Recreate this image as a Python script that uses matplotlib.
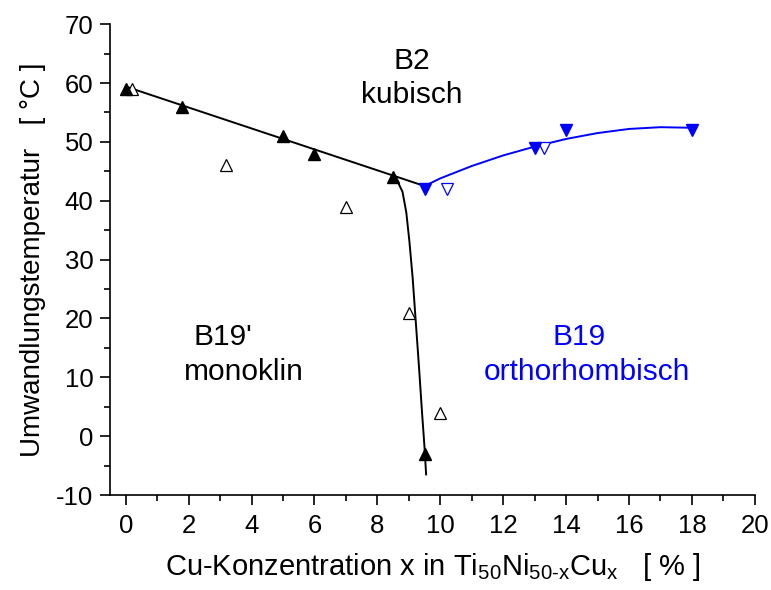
import matplotlib
matplotlib.use("Agg")
import matplotlib.pyplot as plt
from matplotlib.ticker import MultipleLocator

plt.rcParams['font.family'] = ['Liberation Sans', 'DejaVu Sans']
plt.rcParams['mathtext.fontset'] = 'custom'
plt.rcParams['mathtext.rm'] = 'Liberation Sans'
plt.rcParams['mathtext.it'] = 'Liberation Sans'
plt.rcParams['axes.unicode_minus'] = False

# B19' (monoclinic) data - filled
mono_x = [0, 1.8, 5, 6, 8.5, 9.5]
mono_y = [59, 56, 51, 48, 44, -3]
# B19' open
mono_open_x = [0.2, 3.2, 7, 9, 10]
mono_open_y = [59, 46, 39, 21, 4]
# B19 (orthorhombic) filled
ortho_x = [9.5, 13, 14, 18]
ortho_y = [42, 49, 52, 52]
# B19 open
ortho_open_x = [10.2, 13.3]
ortho_open_y = [42, 49]

# boundary lines
line_b2_x = [0, 9.5]
line_b2_y = [59.4, 42.5]
curve_mono_x = [8.5, 8.65, 8.8, 8.92, 9.02, 9.12, 9.22, 9.32, 9.42, 9.5, 9.55]
curve_mono_y = [44, 43.2, 41.5, 38, 33, 27, 19.5, 12, 4, -2, -6.5]
curve_ortho_x = [9.5, 10, 11, 12, 13, 14, 15, 16, 17, 18]
curve_ortho_y = [42.5, 43.8, 45.9, 47.7, 49.2, 50.5, 51.5, 52.2, 52.5, 52.4]

fig = plt.figure(figsize=(7.71, 5.90), dpi=100)
ax = fig.add_axes([0.1427, 0.161, 0.8363, 0.798])

ax.plot(line_b2_x, line_b2_y, color='black', lw=1.4)
ax.plot(curve_mono_x, curve_mono_y, color='black', lw=1.4)
ax.plot(curve_ortho_x, curve_ortho_y, color='blue', lw=1.4)

ax.plot(mono_open_x, mono_open_y, ls='none', marker='^', ms=9, mfc='white', mec='black', mew=0.9)
ax.plot(mono_x, mono_y, ls='none', marker='^', ms=9, color='black')
ax.plot(ortho_open_x, ortho_open_y, ls='none', marker='v', ms=9, mfc='white', mec='blue', mew=0.9)
ax.plot(ortho_x, ortho_y, ls='none', marker='v', ms=9, color='blue')

fs = 21.5
ax.text(9.1, 63.8, 'B2', ha='center', va='center', fontsize=fs)
ax.text(9.1, 58, 'kubisch', ha='center', va='center', fontsize=fs)
ax.text(3.1, 16.9, "B19'", ha='center', va='center', fontsize=fs)
ax.text(3.75, 10.9, 'monoklin', ha='center', va='center', fontsize=fs)
ax.text(14.4, 16.9, 'B19', ha='center', va='center', fontsize=fs, color='blue')
ax.text(14.65, 10.9, 'orthorhombisch', ha='center', va='center', fontsize=fs, color='blue')

ax.set_xlim(-0.5, 20)
ax.set_ylim(-10, 70)
ax.xaxis.set_major_locator(MultipleLocator(2))
ax.xaxis.set_minor_locator(MultipleLocator(1))
ax.yaxis.set_major_locator(MultipleLocator(10))
ax.yaxis.set_minor_locator(MultipleLocator(5))
ax.tick_params(which='major', direction='out', length=7, width=1.2, labelsize=18.5)
ax.tick_params(axis='x', which='major', pad=7)
ax.tick_params(axis='y', which='major', pad=5)
ax.tick_params(which='minor', direction='out', length=4, width=1.2)
for s in ['top', 'right']:
    ax.spines[s].set_visible(False)
for s in ['left', 'bottom']:
    ax.spines[s].set_linewidth(1.2)

ax.set_xlabel(r'Cu-Konzentration x in Ti$_{50}$Ni$_{50\text{-}x}$Cu$_{x}$   [ % ]', fontsize=21, labelpad=9)
ax.set_ylabel('Umwandlungstemperatur   [ °C ]', fontsize=20, labelpad=7)

fig.savefig('out.png', dpi=100)
